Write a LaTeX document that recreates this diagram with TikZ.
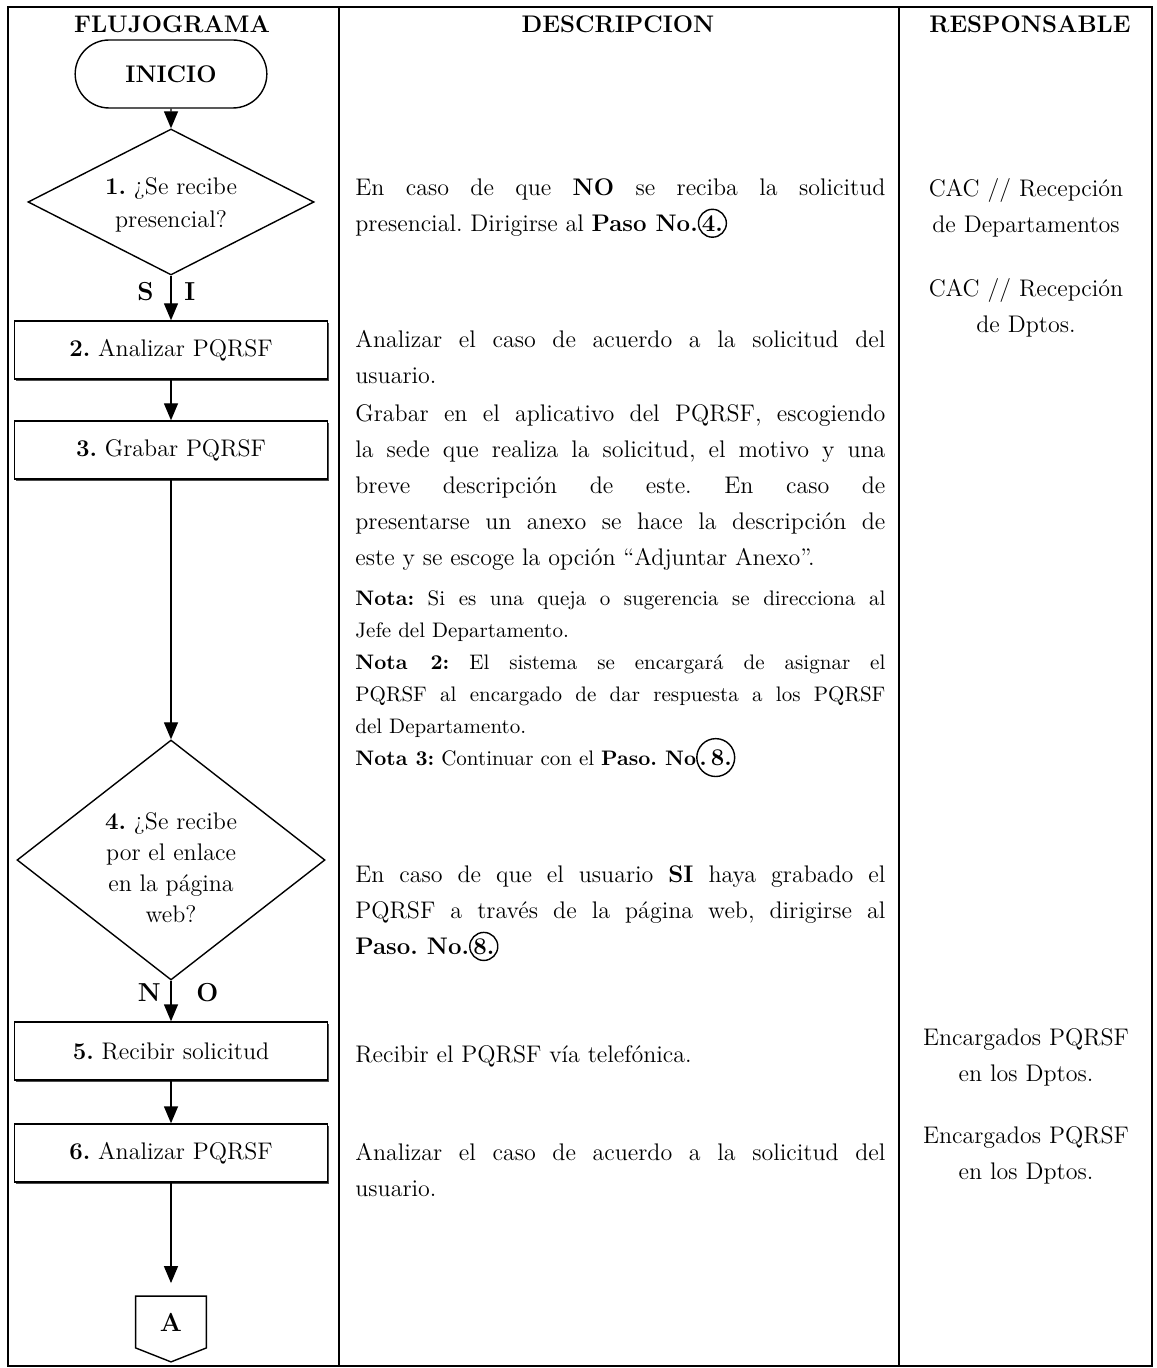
\documentclass[tikz,border=0pt]{standalone}
\usepackage{tikz}
\usetikzlibrary{arrows.meta,shapes.geometric,shapes.misc,shadows}
\frenchspacing

\tikzset{
  caja/.style={draw, line width=0.7pt, fill=white, minimum width=156.5pt, minimum height=29pt, inner sep=0pt,
    drop shadow={shadow xshift=0.8pt, shadow yshift=-0.8pt, fill=black!70, opacity=1}},
  decision/.style={draw, line width=0.7pt, diamond, inner sep=0pt, fill=white},
  flecha/.style={-{Triangle[length=8.5pt,width=7pt]}, line width=0.7pt},
  desc/.style={anchor=north west, inner sep=0pt, text width=265pt, align=justify},
  resp/.style={anchor=north, inner sep=0pt, text width=125pt, align=center},
  encab/.style={anchor=base, font=\fontsize{12}{14}\selectfont\bfseries},
  rotulo/.style={font=\fontsize{13}{14}\selectfont\bfseries},
}
\newcommand{\nota}{\fontsize{10.5}{16}\selectfont}
\newcommand{\paso}[1]{\tikz[baseline=(p.base)]\node(p)[draw,circle,line width=0.7pt,inner sep=0.3pt,text width=,align=center]{\textbf{#1}};}

\begin{document}
\begin{tikzpicture}[x=0.5pt,y=-0.5pt,every node/.style={font=\fontsize{12}{18}\selectfont}]
\useasboundingbox (0,0) rectangle (1156,1368);
\draw[line width=1pt] (8,7) rectangle (1152,1366);
\draw[line width=1pt] (339,7) -- (339,1366);
\draw[line width=1pt] (899,7) -- (899,1366);
\node (h1) [encab] at (172,33) {FLUJOGRAMA};
\node (h2) [encab] at (618,33) {DESCRIPCION};
\node (h3) [encab] at (1030,33) {RESPONSABLE};

\node (inicio) [draw, line width=0.7pt, rounded rectangle, minimum width=102.5pt, minimum height=34pt, font=\fontsize{12}{14}\selectfont\bfseries] at (171,74) {INICIO};
\node (d1) [decision, minimum width=143pt, minimum height=73pt] at (171,202) {};
\node (t1) [align=center, inner sep=0pt, font=\fontsize{12}{16.5}\selectfont] at (171,205) {\textbf{1.} ¿Se recibe\\presencial?};
\node (b2) [caja] at (171,350) {\textbf{2.} Analizar PQRSF};
\node (b3) [caja] at (171,450) {\textbf{3.} Grabar PQRSF};
\node (d4) [decision, minimum width=154pt, minimum height=120pt] at (171,860) {};
\node (t4) [align=center, inner sep=0pt, font=\fontsize{12}{15.5}\selectfont] at (171,868) {\textbf{4.} ¿Se recibe\\por el enlace\\en la página\\web?};
\node (b5) [caja] at (171,1051) {\textbf{5.} Recibir solicitud};
\node (b6) [caja] at (171,1153) {\textbf{6.} Analizar PQRSF};
\node (conA) [minimum width=35pt, minimum height=25.5pt, inner sep=0pt, font=\fontsize{13}{14}\selectfont\bfseries] at (171,1322) {A};
\draw[line width=0.7pt] (conA.south west) -- (conA.north west) -- (conA.north east) -- (conA.south east) -- ([yshift=-7pt]conA.south) -- cycle;

\draw[flecha] (inicio) -- (d1);
\draw[flecha] (d1) -- node[rotulo, pos=0.35, left=5pt] (si1) {S} node[rotulo, pos=0.35, right=3pt] (si2) {I} (b2);
\draw[flecha] (b2) -- (b3);
\draw[flecha] (b3) -- (d4);
\draw[flecha] (d4) -- node[rotulo, pos=0.3, left=1.5pt] (no1) {N} node[rotulo, pos=0.3, right=9pt] (no2) {O} (b5);
\draw[flecha] (b5) -- (b6);
\draw[flecha, shorten >=6.5pt] (b6) -- (conA.north);

\node (p1) [desc] at (355,178) {En caso de que \textbf{NO} se reciba la solicitud\linebreak presencial. Dirigirse al \textbf{Paso No.}\paso{4.}};
\node (p2) [desc] at (355,330) {Analizar el caso de acuerdo a la solicitud del\linebreak usuario.};
\node (p3) [desc] at (355,404) {Grabar en el aplicativo del PQRSF, escogiendo\linebreak la sede que realiza la solicitud, el motivo y una\linebreak breve descripción de este. En caso de\linebreak presentarse un anexo se hace la descripción de\linebreak este y se escoge la opción ``Adjuntar Anexo''.\par
\vspace{4pt}
{\nota \textbf{Nota:} Si es una queja o sugerencia se direcciona al\linebreak Jefe del Departamento.\par
\textbf{Nota 2:} El sistema se encargará de asignar el\linebreak PQRSF al encargado de dar respuesta a los PQRSF\linebreak del Departamento.\par
\textbf{Nota 3:} Continuar con el \textbf{Paso. No}\paso{.\,8.}\par}};
\node (p4) [desc] at (355,865) {En caso de que el usuario \textbf{SI} haya grabado el\linebreak PQRSF a través de la página web, dirigirse al\linebreak \textbf{Paso. No.}\paso{8.}};
\node (p5) [desc] at (355,1045) {Recibir el PQRSF vía telefónica.};
\node (p6) [desc] at (355,1143) {Analizar el caso de acuerdo a la solicitud del\linebreak usuario.};

\node (r1) [resp] at (1026,178) {CAC // Recepción\\de Departamentos};
\node (r2) [resp] at (1026,278) {CAC // Recepción\\de Dptos.};
\node (r3) [resp] at (1026,1028) {Encargados PQRSF\\en los Dptos.};
\node (r4) [resp] at (1026,1126) {Encargados PQRSF\\en los Dptos.};
\end{tikzpicture}
\end{document}
